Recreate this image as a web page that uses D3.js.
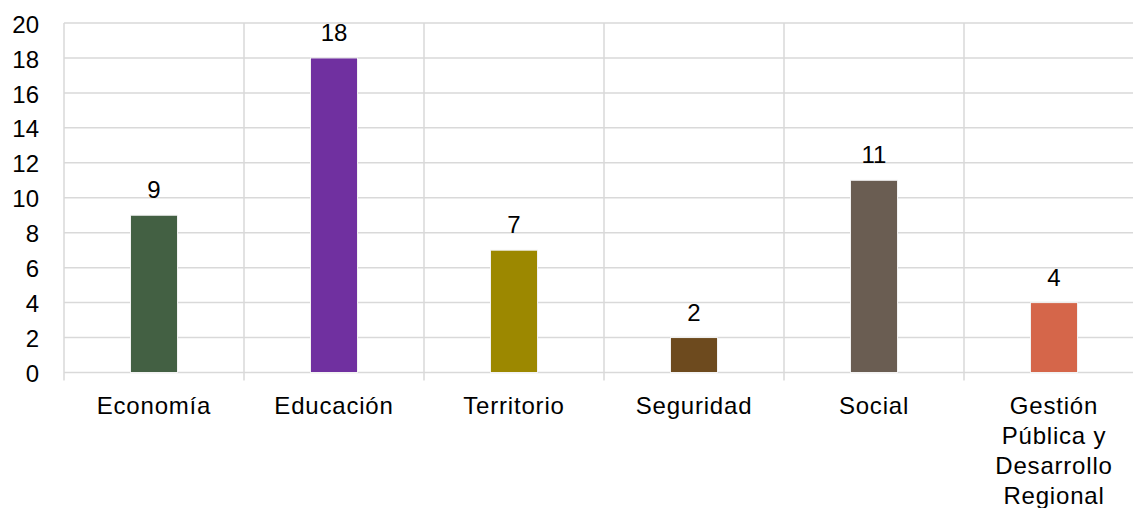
<!DOCTYPE html>
<html>
<head>
<meta charset="utf-8">
<script src="https://cdn.jsdelivr.net/npm/d3@7"></script>
<style>
  body { margin: 0; background: #fff; }
  text { font-family: "Liberation Sans", Arial, sans-serif; fill: #000; }
</style>
</head>
<body>
<div id="chart"></div>
<script>
// data
var categories = ["Economía", "Educación", "Territorio", "Seguridad", "Social", "Gestión Pública y Desarrollo Regional"];
var values = [9, 18, 7, 2, 11, 4];
var barColors = ["#436043", "#7030a0", "#9c8800", "#6d4a1e", "#6a5d52", "#d5664a"];
var yTicks = [0, 2, 4, 6, 8, 10, 12, 14, 16, 18, 20];

var W = 1133, H = 508;
var margin = { left: 64, top: 23 };
var plotW = 1080, plotH = 349.5;

var svg = d3.select("#chart").append("svg")
    .attr("width", W)
    .attr("height", H);

var g = svg.append("g")
    .attr("transform", "translate(" + margin.left + "," + margin.top + ")");

var x = d3.scaleBand().domain(categories).range([0, plotW]).paddingInner(0).paddingOuter(0);
var y = d3.scaleLinear().domain([0, 20]).range([plotH, 0]);
var color = d3.scaleOrdinal().domain(categories).range(barColors);

var gridColor = "#d9d9d9";

// horizontal gridlines
g.selectAll("line.hgrid")
    .data(yTicks)
    .enter().append("line")
    .attr("class", "hgrid")
    .attr("x1", 0).attr("x2", plotW)
    .attr("y1", function(d) { return y(d); })
    .attr("y2", function(d) { return y(d); })
    .attr("stroke", gridColor)
    .attr("stroke-width", 1.5);

// vertical separators between categories (with small tick below the zero line)
var bounds = categories.map(function(c) { return x(c); });
g.selectAll("line.vgrid")
    .data(bounds)
    .enter().append("line")
    .attr("class", "vgrid")
    .attr("x1", function(d) { return d; })
    .attr("x2", function(d) { return d; })
    .attr("y1", 0).attr("y2", plotH + 8)
    .attr("stroke", gridColor)
    .attr("stroke-width", 1.5);

// y tick labels
g.selectAll("text.ytick")
    .data(yTicks)
    .enter().append("text")
    .attr("class", "ytick")
    .attr("x", -25)
    .attr("y", function(d) { return y(d); })
    .attr("dy", "0.4em")
    .attr("text-anchor", "end")
    .style("font-size", "24px")
    .text(function(d) { return d; });

// bars
var barW = 47;
g.selectAll("rect.bar")
    .data(values)
    .enter().append("rect")
    .attr("class", "bar")
    .attr("x", function(d, i) { return x(categories[i]) + x.bandwidth() / 2 - barW / 2; })
    .attr("y", function(d) { return y(d); })
    .attr("width", barW)
    .attr("height", function(d) { return y(0) - y(d); })
    .attr("fill", function(d, i) { return color(categories[i]); })
    .attr("stroke", "#f2f2f2")
    .attr("stroke-width", 1);

// value labels
g.selectAll("text.val")
    .data(values)
    .enter().append("text")
    .attr("class", "val")
    .attr("x", function(d, i) { return x(categories[i]) + x.bandwidth() / 2; })
    .attr("y", function(d) { return y(d) - 17; })
    .attr("text-anchor", "middle")
    .style("font-size", "24px")
    .text(function(d) { return d; });

// category labels, wrapped
function wrap(textSel, width) {
    textSel.each(function() {
        var text = d3.select(this);
        var words = text.text().split(/\s+/);
        var line = [];
        var xPos = text.attr("x");
        var tspan = text.text(null).append("tspan").attr("x", xPos).attr("dy", 0);
        words.forEach(function(w) {
            line.push(w);
            tspan.text(line.join(" "));
            if (tspan.node().getComputedTextLength() > width && line.length > 1) {
                line.pop();
                tspan.text(line.join(" "));
                line = [w];
                tspan = text.append("tspan").attr("x", xPos).attr("dy", "30").text(w);
            }
        });
    });
}

g.selectAll("text.cat")
    .data(categories)
    .enter().append("text")
    .attr("class", "cat")
    .attr("x", function(d) { return x(d) + x.bandwidth() / 2; })
    .attr("y", plotH + 41)
    .attr("text-anchor", "middle")
    .style("font-size", "24px")
    .style("letter-spacing", "0.8px")
    .text(function(d) { return d; })
    .call(wrap, 130);
</script>
</body>
</html>
